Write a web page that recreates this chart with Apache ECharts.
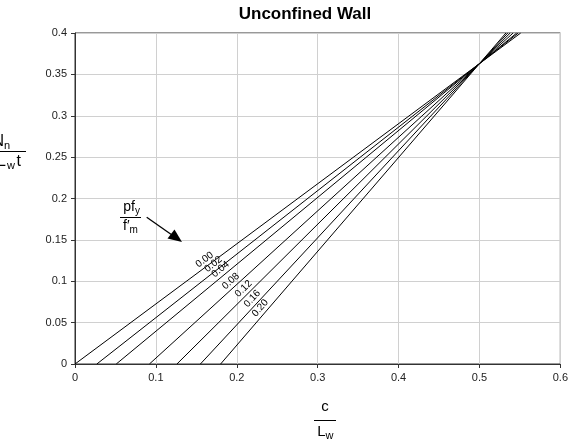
<!DOCTYPE html>
<html>
<head>
<meta charset="utf-8">
<script src="https://cdn.jsdelivr.net/npm/echarts@6/dist/echarts.min.js"></script>
<style>
  html, body { margin: 0; padding: 0; background: #fff; }
  #chart { width: 571px; height: 440px; }
</style>
</head>
<body>
<div id="chart"></div>
<script>
// pf_y / f'_m ratio of each line
const ratios = ['0.00', '0.02', '0.04', '0.08', '0.12', '0.16', '0.20'];
// c/Lw where each line starts (at 0)
const xStart = [0, 0.027, 0.051, 0.092, 0.126, 0.155, 0.18];
// common crossing point of all lines
const pivot = [0.5, 0.363];
// c/Lw where each line leaves the top of the plot (0.4)
const xTop = [0.551, 0.548, 0.546, 0.5416, 0.538, 0.535, 0.5327];
// axis ranges
const xRange = [0, 0.6, 0.1];
const yRange = [0, 0.4, 0.05];

// where along each line its label sits (layout only)
const labelAt = [0.165, 0.176, 0.185, 0.198, 0.214, 0.225, 0.235];

const FONT = '"Liberation Sans", Arial, sans-serif';
const chart = echarts.init(document.getElementById('chart'));

function txt(x, base, s, size, align, weight) {
  return {
    type: 'text', x: x, y: base - size * 0.33, silent: true,
    style: {
      text: s, fill: '#000',
      font: (weight || 'normal') + ' ' + size + 'px ' + FONT,
      textAlign: align, align: align,
      textVerticalAlign: 'middle', verticalAlign: 'middle'
    }
  };
}
function hline(x1, x2, y) {
  return { type: 'line', silent: true, shape: { x1: x1, y1: y, x2: x2, y2: y },
    style: { stroke: '#000', lineWidth: 1 } };
}

chart.setOption({
  animation: false,
  grid: { left: 75, right: 10, top: 33, bottom: 76, show: true, borderColor: '#333', borderWidth: 1 },
  xAxis: {
    type: 'value', min: xRange[0], max: xRange[1], interval: xRange[2],
    axisLine: { lineStyle: { color: '#333' } },
    axisTick: { show: true, length: 4, lineStyle: { color: '#333' } },
    axisLabel: { color: '#222', fontSize: 11, fontFamily: FONT, margin: 8 },
    splitLine: { lineStyle: { color: '#d0d0d0' } }
  },
  yAxis: {
    type: 'value', min: yRange[0], max: yRange[1], interval: yRange[2],
    axisLine: { show: true, lineStyle: { color: '#333' } },
    axisTick: { show: true, length: 4, lineStyle: { color: '#333' } },
    axisLabel: { color: '#222', fontSize: 11, fontFamily: FONT, margin: 8 },
    splitLine: { lineStyle: { color: '#d0d0d0' } }
  },
  series: ratios.map((r, i) => ({
    type: 'line', name: r, silent: true, symbol: 'none',
    data: [[xStart[i], 0], pivot, [xTop[i], 0.4]],
    lineStyle: { color: '#000', width: 1 }
  }))
});

// labels along the lines
const g = [];
ratios.forEach((r, i) => {
  const t = (labelAt[i] - xStart[i]) / (pivot[0] - xStart[i]);
  const p = chart.convertToPixel({ gridIndex: 0 }, [labelAt[i], t * pivot[1]]);
  const a = chart.convertToPixel({ gridIndex: 0 }, [xStart[i], 0]);
  const b = chart.convertToPixel({ gridIndex: 0 }, pivot);
  const ang = Math.atan2(a[1] - b[1], b[0] - a[0]);
  g.push({
    type: 'text', x: p[0], y: p[1], rotation: ang, silent: true,
    style: { text: r, x: 0, y: -1.5, fill: '#000', font: '10px ' + FONT,
      textAlign: 'center', align: 'center', textVerticalAlign: 'bottom', verticalAlign: 'bottom' }
  });
});

// title
g.push(txt(305, 20, 'Unconfined Wall', 17, 'center', 'bold'));

// y axis name: N_n / f'_m L_w t (cut at the left edge)
g.push(txt(4, 147, 'N', 16, 'right'));
g.push(txt(4, 150, 'n', 11, 'left'));
g.push(hline(-40, 26, 151.5));
g.push(txt(-14, 167, 'f′', 16, 'right'));
g.push(txt(-14, 170, 'm', 11, 'left'));
g.push(txt(6, 167, 'L', 16, 'right'));
g.push(txt(7, 170, 'w', 11, 'left'));
g.push(txt(16.5, 167, 't', 16, 'left'));

// x axis name: c / L_w
g.push(txt(325, 412, 'c', 15, 'center'));
g.push(hline(314, 336, 420.5));
g.push(txt(325.5, 437, 'L', 15, 'right'));
g.push(txt(325.5, 440, 'w', 11, 'left'));

// pf_y / f'_m with arrow
g.push(txt(135, 212, 'pf', 14, 'right'));
g.push(txt(135, 215, 'y', 10, 'left'));
g.push(hline(120, 141, 217.5));
g.push(txt(129.5, 231, 'f′', 14, 'right'));
g.push(txt(129.5, 234, 'm', 10, 'left'));
g.push({ type: 'line', silent: true, shape: { x1: 146.7, y1: 217.3, x2: 172, y2: 235 },
  style: { stroke: '#000', lineWidth: 1.3 } });
g.push({ type: 'polygon', silent: true,
  shape: { points: [[182, 242], [167.5, 238.5], [174.5, 229.5]] }, style: { fill: '#000' } });

chart.setOption({ graphic: g });
</script>
</body>
</html>
